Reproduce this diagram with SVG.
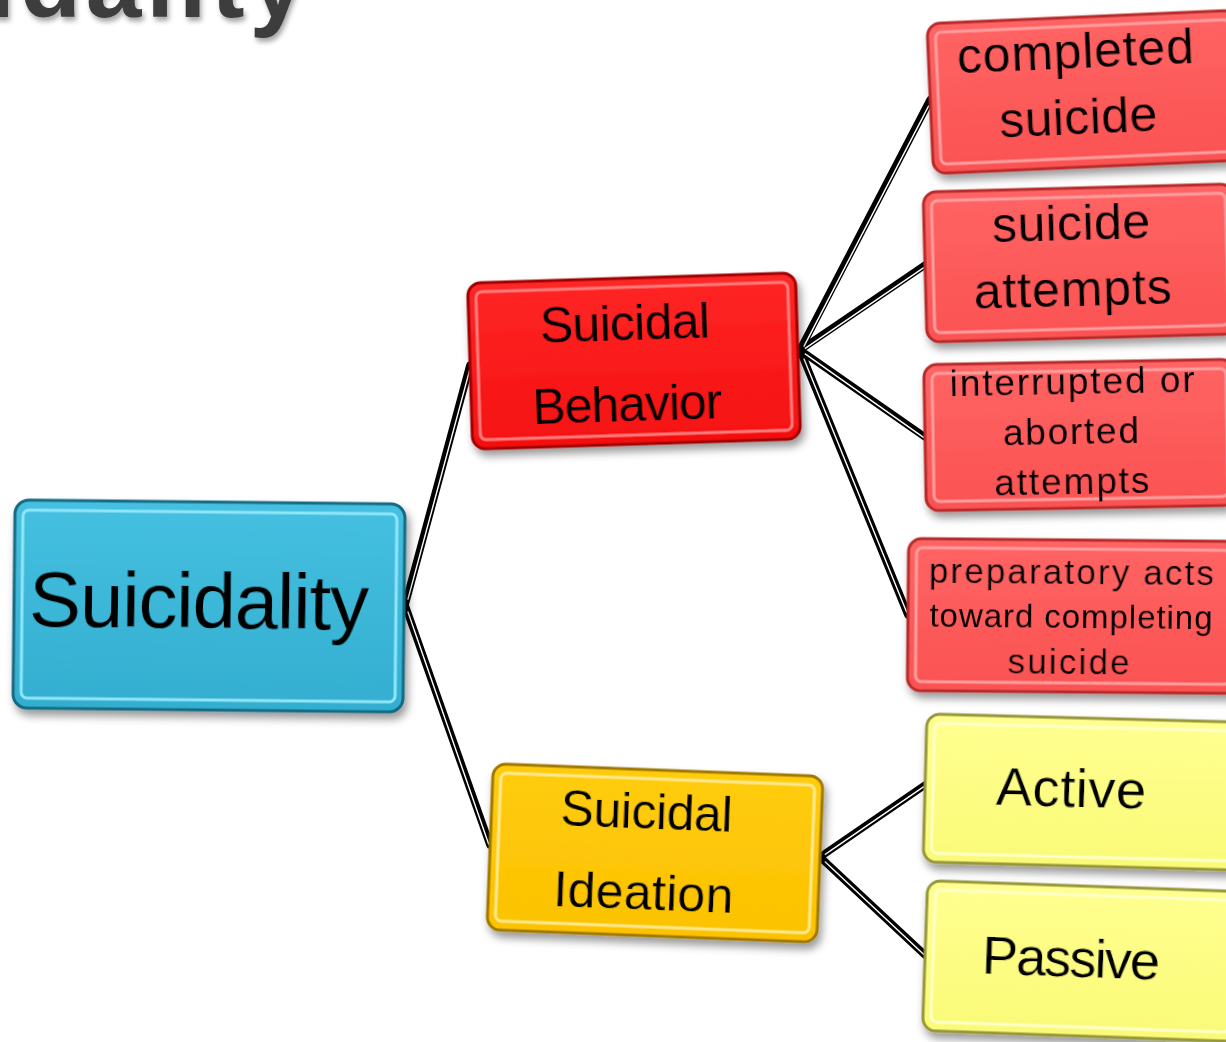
<svg xmlns="http://www.w3.org/2000/svg" width="1226" height="1042" viewBox="0 0 1226 1042">
<defs>
<style>
.t{font-family:"Liberation Sans",Arial,sans-serif;fill:#000;text-anchor:middle}
.co{fill:none;stroke:#000;stroke-width:7.5;stroke-linecap:round}
.ci{fill:none;stroke:#fff;stroke-width:1.4;stroke-linecap:butt}
.in{fill:none;stroke-width:3}
</style>
<filter id="sh" x="-10%" y="-10%" width="125%" height="130%">
<feDropShadow dx="3" dy="6" stdDeviation="4" flood-color="#000" flood-opacity="0.4"/>
</filter>
<filter id="tsh" x="-10%" y="-50%" width="120%" height="200%">
<feDropShadow dx="2" dy="4" stdDeviation="2.5" flood-color="#000" flood-opacity="0.35"/>
</filter>
<linearGradient id="gBlue" x1="0" y1="0" x2="0" y2="1"><stop offset="0" stop-color="#45c0e0"/><stop offset="1" stop-color="#33aed0"/></linearGradient>
<linearGradient id="gRed" x1="0" y1="0" x2="0" y2="1"><stop offset="0" stop-color="#ff2626"/><stop offset="1" stop-color="#f51010"/></linearGradient>
<linearGradient id="gGold" x1="0" y1="0" x2="0" y2="1"><stop offset="0" stop-color="#ffcc10"/><stop offset="1" stop-color="#fcc200"/></linearGradient>
<linearGradient id="gPink" x1="0" y1="0" x2="0" y2="1"><stop offset="0" stop-color="#ff6464"/><stop offset="1" stop-color="#fb5252"/></linearGradient>
<linearGradient id="gYel" x1="0" y1="0" x2="0" y2="1"><stop offset="0" stop-color="#ffff90"/><stop offset="1" stop-color="#fafa78"/></linearGradient>
</defs>
<rect width="1226" height="1042" fill="#fff"/>

<g id="title">
<text x="-243" y="17" font-family="'Liberation Sans',Arial,sans-serif" font-weight="bold" font-size="100" textLength="548" fill="#3d3d3d" filter="url(#tsh)">Suicidality</text>
</g>

<g id="connectors">
<path class="co" d="M405,605 L470,365 M405,605 L490,845 M800,350 L930,100 M800,350 L925,265 M800,350 L925,437 M800,350 L908,615 M820,857 L925,785 M820,857 L925,955"/>
<path class="ci" transform="translate(0.8,1.6)" d="M407,598 L469,368 M407,610 L488,843 M803,345 L928,104 M804,347 L923,266 M804,352 L923,436 M803,357 L906,611 M824,853 L923,785 M824,860 L923,953"/>
</g>

<g id="n-suicidality" transform="rotate(0.6 208 607)" filter="url(#sh)">
<rect x="14" y="502" width="390" height="208" rx="14" fill="url(#gBlue)" stroke="#156a82" stroke-width="3"/>
<rect x="22" y="512" width="374" height="188" rx="6" class="in" stroke="#8fe6fa"/>
<text class="t" x="199" y="628" font-size="78" textLength="340">Suicidality</text>
</g>

<g id="n-behavior" transform="rotate(-1.8 634 360)" filter="url(#sh)">
<rect x="470" y="278" width="328" height="166" rx="13" fill="url(#gRed)" stroke="#a00000" stroke-width="3"/>
<rect x="478" y="287" width="312" height="148" rx="6" class="in" stroke="#ff7a7a"/>
<text class="t" x="626" y="340" font-size="50" textLength="170">Suicidal</text>
<text class="t" x="626" y="421" font-size="50" textLength="190">Behavior</text>
</g>

<g id="n-ideation" transform="rotate(2.2 655 853)" filter="url(#sh)">
<rect x="490" y="770" width="330" height="166" rx="13" fill="url(#gGold)" stroke="#a07800" stroke-width="3"/>
<rect x="498" y="779" width="314" height="148" rx="6" class="in" stroke="#ffe98a"/>
<text class="t" x="645" y="829" font-size="50" textLength="172">Suicidal</text>
<text class="t" x="645" y="910" font-size="50" textLength="180">Ideation</text>
</g>

<g id="n-completed" transform="rotate(-2.5 1083 90)" filter="url(#sh)">
<rect x="930" y="17" width="310" height="150" rx="13" fill="url(#gPink)" stroke="#b82c2c" stroke-width="3"/>
<rect x="938" y="26" width="294" height="132" rx="6" class="in" stroke="#ff9d9d"/>
<text class="t" x="1077" y="68" font-size="50" textLength="237">completed</text>
<text class="t" x="1077" y="134" font-size="50" textLength="158">suicide</text>
</g>

<g id="n-attempts" transform="rotate(-1.5 1080 262)" filter="url(#sh)">
<rect x="925" y="188" width="310" height="150" rx="13" fill="url(#gPink)" stroke="#b82c2c" stroke-width="3"/>
<rect x="933" y="197" width="294" height="132" rx="6" class="in" stroke="#ff9d9d"/>
<text class="t" x="1072" y="240" font-size="50" textLength="158">suicide</text>
<text class="t" x="1072" y="306" font-size="50" textLength="198">attempts</text>
</g>

<g id="n-interrupted" transform="rotate(-1 1080 435)" filter="url(#sh)">
<rect x="925" y="362" width="310" height="146" rx="13" fill="url(#gPink)" stroke="#b82c2c" stroke-width="3"/>
<rect x="933" y="371" width="294" height="128" rx="6" class="in" stroke="#ff9d9d"/>
<text class="t" x="1073" y="394" font-size="37" textLength="245">interrupted or</text>
<text class="t" x="1071" y="444" font-size="37" textLength="136">aborted</text>
<text class="t" x="1071" y="494" font-size="37" textLength="155">attempts</text>
</g>

<g id="n-preparatory" transform="rotate(0.5 1072 617)" filter="url(#sh)">
<rect x="908" y="540" width="330" height="152" rx="13" fill="url(#gPink)" stroke="#b82c2c" stroke-width="3"/>
<rect x="916" y="549" width="314" height="134" rx="6" class="in" stroke="#ff9d9d"/>
<text class="t" x="1071" y="584" font-size="35" textLength="285">preparatory acts</text>
<text class="t" x="1071" y="628" font-size="33" textLength="283">toward completing</text>
<text class="t" x="1069" y="674" font-size="35" textLength="122">suicide</text>
</g>

<g id="n-active" transform="rotate(1.5 1080 792)" filter="url(#sh)">
<rect x="925" y="718" width="315" height="148" rx="13" fill="url(#gYel)" stroke="#96963a" stroke-width="3"/>
<rect x="933" y="727" width="299" height="130" rx="6" class="in" stroke="#ffffc8"/>
<text class="t" x="1071" y="807" font-size="54" textLength="150">Active</text>
</g>

<g id="n-passive" transform="rotate(2 1080 960)" filter="url(#sh)">
<rect x="925" y="886" width="315" height="150" rx="13" fill="url(#gYel)" stroke="#96963a" stroke-width="3"/>
<rect x="933" y="895" width="299" height="132" rx="6" class="in" stroke="#ffffc8"/>
<text class="t" x="1071" y="977" font-size="54" textLength="178">Passive</text>
</g>
</svg>
